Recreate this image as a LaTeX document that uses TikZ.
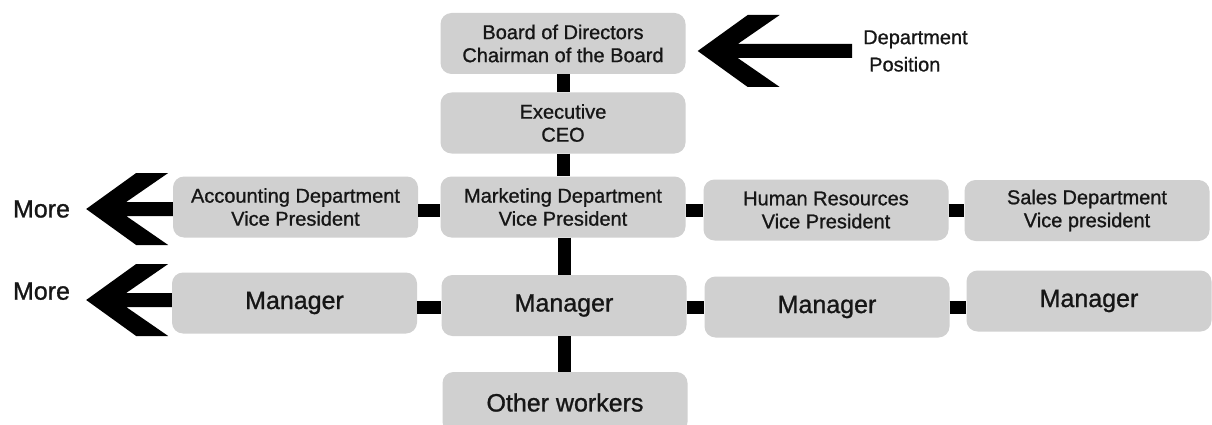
\documentclass[tikz,border=0pt]{standalone}
\usepackage{fontspec}
\setmainfont{Liberation Sans}[FakeBold=1]
\usepackage{tikz}
\usetikzlibrary{calc}
\definecolor{boxgray}{RGB}{208,208,208}
\definecolor{ink}{RGB}{22,22,22}

\begin{document}
\begin{tikzpicture}[
  x=1pt, y=-1pt,
  box/.style={rectangle, rounded corners=11pt, fill=boxgray, text=ink, minimum width=245pt, minimum height=61pt, inner sep=0pt, align=center, font=\fontsize{20}{23}\selectfont},
  bigbox/.style={box, font=\fontsize{25}{30}\selectfont},
  bar/.style={line width=13pt, black},
  note/.style={text=ink, inner ysep=0pt, align=left, font=\fontsize{20}{27.3}\selectfont},
  morelbl/.style={text=ink, inner ysep=0pt, inner xsep=16pt, font=\fontsize{25}{30}\selectfont},
  chevron/.style={fill=black, to path={
    (\tikztotarget) -- ++(50,-36) -- ++(32,0) -- ++(-42,29)
    -- ($(\tikztostart)+(0,-7)$) -- ($(\tikztostart)+(0,7)$)
    -- ($(\tikztotarget)+(40,7)$) -- ++(42,29) -- ++(-32,0) -- cycle}}
]
  \useasboundingbox (0,0) rectangle (1212,425);
  \clip (0,0) rectangle (1212,425);

  % board and executive
  \node[box] (board) at (563,43.5) {Board of Directors\\Chairman of the Board};
  \node[box] (exec) at (563,123) {Executive\\CEO};

  % vice presidents
  \node[box] (acc) at (295.5,207) {Accounting Department\\Vice President};
  \node[box] (mkt) at (563,207) {Marketing Department\\Vice President};
  \node[box] (hr) at (826,210) {Human Resources\\Vice President};
  \node[box] (sales) at (1087,210.5) {Sales Department\\Vice president};

  % managers and workers
  \node[bigbox] (mgr1) at (294.5,303) {Manager};
  \node[bigbox] (mgr2) at (564,305.5) {Manager};
  \node[bigbox] (mgr3) at (827,307) {Manager};
  \node[bigbox] (mgr4) at (1089,301) {Manager};
  \node[bigbox] (workers) at (565,402.5) {Other workers};

  % side labels
  \node[note, anchor=west, inner xsep=11pt] (dept) at (852,51) {Department\\\hspace*{6pt}Position};
  \node[morelbl] (more1) at (41.5,209) {More};
  \node[morelbl, text depth=17.9pt] (more2) at (41.5,300) {More};

  % links
  \draw[bar] (board.south) -- (exec.north);
  \draw[bar] (exec.south) -- (exec.south |- mkt.north);
  \draw[bar] (acc.east |- hr.west) -- (mkt.west |- hr.west);
  \draw[bar] (mkt.east |- hr.west) -- (hr.west);
  \draw[bar] (hr.east) -- (hr.east -| sales.west);
  \draw[bar] (mgr2.north |- mkt.south) -- (mgr2.north);
  \draw[bar] (mgr1.east |- mgr3.west) -- (mgr2.west |- mgr3.west);
  \draw[bar] (mgr2.east |- mgr3.west) -- (mgr3.west);
  \draw[bar] (mgr3.east) -- (mgr3.east -| mgr4.west);
  \draw[bar] (mgr2.south) -- (mgr2.south |- workers.north);

  % big arrows
  \path[chevron] (dept.west) to ([xshift=12pt]board.east |- dept.west);
  \path[chevron] (acc.west |- more1.east) to (more1.east);
  \path[chevron] (mgr1.west |- more2.east) to (more2.east);
\end{tikzpicture}
\end{document}
